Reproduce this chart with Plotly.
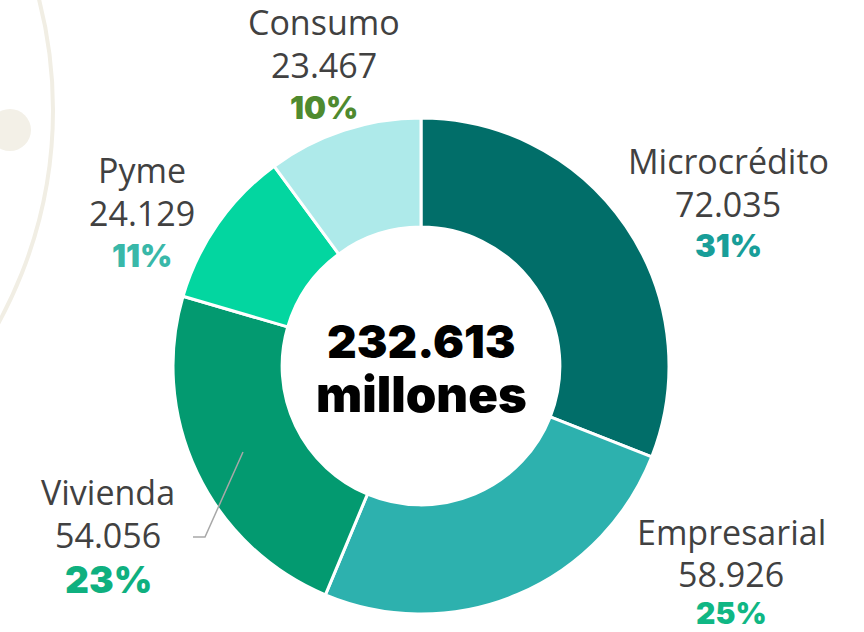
import plotly.graph_objects as go

# ---- data ----
categories = ["Microcrédito", "Empresarial", "Vivienda", "Pyme", "Consumo"]
values = [72.035, 58.926, 54.056, 24.129, 23.467]
value_labels = ["72.035", "58.926", "54.056", "24.129", "23.467"]
pct_labels = ["31%", "25%", "23%", "11%", "10%"]
total_label = "232.613"
total_unit = "millones"

slice_colors = ["#016e69", "#2db1ae", "#039a70", "#03d6a0", "#aeeaea"]
pct_colors = ["#189e99", "#10b784", "#0fb07f", "#39b8a9", "#4f8a2f"]

W, H = 864, 632


def px(x):
    return x / W


def py(y):
    return (H - y) / H


# pie placement (pixels): centre and outer radius
cx, cy, R = 421, 366, 248

fig = go.Figure()
fig.add_trace(go.Pie(
    labels=categories,
    values=values,
    sort=False,
    direction="clockwise",
    rotation=0,
    hole=0.56,
    marker=dict(colors=slice_colors, line=dict(color="white", width=3)),
    textinfo="none",
    hoverinfo="label+value+percent",
    showlegend=False,
    domain=dict(x=[px(cx - R), px(cx + R)], y=[py(cy + R), py(cy - R)]),
))

# label layout: (center x, [line mid y for name, value, pct], pct font size)
label_pos = {
    "Microcrédito": (728, [161, 204, 246], 31),
    "Empresarial": (731, [532, 574, 613], 30),
    "Vivienda": (108, [492, 535, 579], 37),
    "Pyme": (142, [170, 213, 255], 31),
    "Consumo": (324, [22, 65, 107], 31),
}

GRAY = "#414141"
REG = "Open Sans"
BOLD = "Inter"

ann = []
for i, c in enumerate(categories):
    x, ys, psize = label_pos[c]
    ann.append(dict(x=px(x), y=py(ys[0]), text=c, showarrow=False,
                    xanchor="center", yanchor="middle",
                    font=dict(family=REG, size=34, color=GRAY)))
    ann.append(dict(x=px(x), y=py(ys[1]), text=value_labels[i], showarrow=False,
                    xanchor="center", yanchor="middle",
                    font=dict(family=REG, size=34, color=GRAY)))
    ann.append(dict(x=px(x), y=py(ys[2]), text=pct_labels[i], showarrow=False,
                    xanchor="center", yanchor="middle",
                    font=dict(family=BOLD, size=psize, color=pct_colors[i], weight=900)))

ann.append(dict(x=px(cx), y=py(341), text=total_label, showarrow=False,
                xanchor="center", yanchor="middle",
                font=dict(family=BOLD, size=46, color="black", weight=900)))
ann.append(dict(x=px(cx), y=py(394), text=total_unit, showarrow=False,
                xanchor="center", yanchor="middle",
                font=dict(family=BOLD, size=49, color="black", weight=900)))

shapes = [
    # faint decorative background ring and dot
    dict(type="circle", xref="paper", yref="paper", layer="below",
         x0=px(-390 - 443), x1=px(-390 + 443), y0=py(110 + 443), y1=py(110 - 443),
         line=dict(color="#f1eee4", width=4)),
    dict(type="circle", xref="paper", yref="paper", layer="below",
         x0=px(10 - 21), x1=px(10 + 21), y0=py(130 + 21), y1=py(130 - 21),
         fillcolor="#f3f0e7", line=dict(width=0)),
    # leader line for Vivienda
    dict(type="path", xref="paper", yref="paper",
         path=f"M {px(243)},{py(452)} L {px(205)},{py(537)} L {px(193)},{py(537)}",
         line=dict(color="#a8a8a8", width=1.5)),
]

fig.update_layout(
    width=W, height=H,
    margin=dict(l=0, r=0, t=0, b=0),
    paper_bgcolor="white", plot_bgcolor="white",
    annotations=ann,
    shapes=shapes,
)

fig.write_html("out.html", config={"displayModeBar": False},
               post_script="document.body.style.margin='0';")
